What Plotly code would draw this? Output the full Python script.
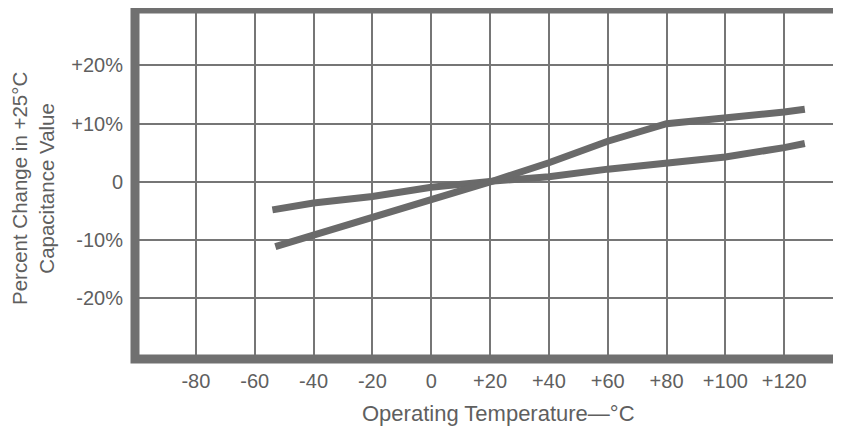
import plotly.graph_objects as go

# Data
temp_a = [-54, -40, -20, 0, 20, 40, 60, 80, 100, 120, 127]
pct_a = [-4.8, -3.6, -2.5, -0.9, 0.1, 0.9, 2.2, 3.3, 4.3, 5.9, 6.6]

temp_b = [-53, -40, -20, 0, 20, 40, 60, 80, 100, 120, 127]
pct_b = [-11.1, -9.1, -6.3, -3.1, 0.0, 3.3, 7.0, 10.0, 10.9, 12.0, 12.5]

x_ticks = [-80, -60, -40, -20, 0, 20, 40, 60, 80, 100, 120]
x_labels = ["-80", "-60", "-40", "-20", "0", "+20", "+40", "+60", "+80", "+100", "+120"]
y_ticks = [20, 10, 0, -10, -20]
y_labels = ["+20%", "+10%", "0", "-10%", "-20%"]

line_color = "#6a6a6a"
grid_color = "#767676"
text_color = "#5f5f5f"
font_family = "Liberation Sans, Arial, sans-serif"

# page is drawn with an 8px body margin; figure sized so it fits the window
W, H = 833, 425
L, T, B, R = 127, 1, 74, 0
PW, PH = W - L - R, H - T - B

def px(fx):
    return (fx - L) / PW

def py(fy):
    return (H - B - fy) / PH

fig = go.Figure()
fig.add_trace(go.Scatter(x=temp_a, y=pct_a, mode="lines",
                         line=dict(color=line_color, width=7), showlegend=False))
fig.add_trace(go.Scatter(x=temp_b, y=pct_b, mode="lines",
                         line=dict(color=line_color, width=7), showlegend=False))

fig.update_layout(
    width=W, height=H,
    margin=dict(l=L, r=R, t=T, b=B, pad=0),
    paper_bgcolor="white", plot_bgcolor="white",
    font=dict(family=font_family, color=text_color, size=20),
    xaxis=dict(range=[-100.7, 139.3], tickvals=x_ticks, ticktext=x_labels,
               showgrid=True, gridcolor=grid_color, gridwidth=2,
               zeroline=False, showline=False, ticks="", ticklabelstandoff=8,
               tickfont=dict(size=20), fixedrange=True),
    yaxis=dict(range=[-30.4, 29.7], tickvals=y_ticks, ticktext=y_labels,
               showgrid=True, gridcolor=grid_color, gridwidth=2,
               zeroline=False, showline=False, ticks="", ticklabelstandoff=11,
               tickfont=dict(size=20), fixedrange=True),
    shapes=[dict(type="rect", xref="paper", yref="paper",
                 x0=0, x1=1.05, y0=0, y1=1,
                 line=dict(color="#707070", width=9), layer="above")],
    annotations=[
        dict(text="Operating Temperature\u2014\u00b0C", xref="paper", yref="paper",
             x=px(490), y=py(406), xanchor="center", yanchor="middle",
             showarrow=False, font=dict(size=22, color=text_color)),
        dict(text="Percent Change in +25\u00b0C<br>Capacitance Value", xref="paper", yref="paper",
             x=px(25), y=py(181), xanchor="center", yanchor="middle",
             textangle=-90, showarrow=False, font=dict(size=20.5, color=text_color)),
    ],
)

fig.write_html("out.html")
